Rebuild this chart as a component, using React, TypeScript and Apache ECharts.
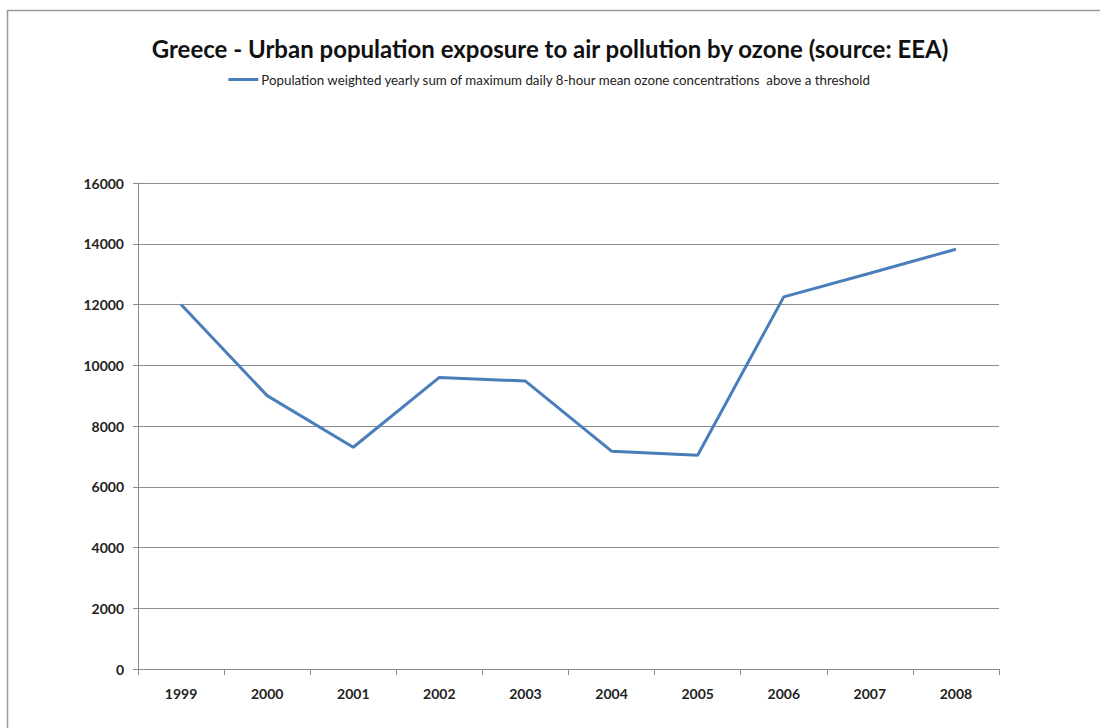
import React, { useEffect, useRef } from "react";
import * as echarts from "echarts";

const titleText = "Greece - Urban population exposure to air pollution by ozone (source: EEA)";
const seriesName = "Population weighted yearly sum of maximum daily 8-hour mean ozone concentrations  above a threshold";
const years = ["1999", "2000", "2001", "2002", "2003", "2004", "2005", "2006", "2007", "2008"];
const ozoneValues = [12000, 9000, 7300, 9600, 9480, 7170, 7040, 12250, 13030, 13820];
const yMin = 0;
const yMax = 16000;
const yStep = 2000;

export default function App() {
  const ref = useRef<HTMLDivElement>(null);
  useEffect(() => {
    if (!ref.current) return;
    const chart = echarts.init(ref.current, null, { renderer: "svg" });
    const font = "Lato, 'Open Sans', sans-serif";
    chart.setOption({
      animation: false,
      backgroundColor: "#ffffff",
      title: {
        text: titleText,
        left: "center",
        top: 31,
        textStyle: { fontFamily: font, fontSize: 24, fontWeight: "bold", color: "#111" },
      },
      legend: {
        data: [seriesName],
        top: 68,
        left: "center",
        icon: "rect",
        itemWidth: 30,
        itemHeight: 3,
        itemGap: 4,
        textStyle: { fontFamily: font, fontSize: 13.3, color: "#222", padding: [0, 0, 0, -2] },
      },
      graphic: [
        { type: "line", shape: { x1: 7, y1: 10.5, x2: 1100, y2: 10.5 }, style: { stroke: "#9a9a9a", lineWidth: 1.5 } },
        { type: "line", shape: { x1: 7.5, y1: 10, x2: 7.5, y2: 728 }, style: { stroke: "#9a9a9a", lineWidth: 1.5 } },
      ],
      grid: { left: 138, right: 101, top: 183, bottom: 59 },
      xAxis: {
        type: "category",
        data: years,
        boundaryGap: true,
        axisLine: { lineStyle: { color: "#8c8c8c", width: 1 } },
        axisTick: { show: true, length: 6, lineStyle: { color: "#8c8c8c" } },
        axisLabel: { fontFamily: font, fontSize: 14, fontWeight: "bold", color: "#222", margin: 17 },
      },
      yAxis: {
        type: "value",
        min: yMin,
        max: yMax,
        interval: yStep,
        axisLine: { show: true, lineStyle: { color: "#8c8c8c", width: 1 } },
        axisTick: { show: true, length: 5, lineStyle: { color: "#8c8c8c" } },
        axisLabel: {
          fontFamily: font,
          fontSize: 14,
          fontWeight: "bold",
          color: "#222",
          margin: 14,
          formatter: (v: number) => String(v),
        },
        splitLine: { show: true, lineStyle: { color: "#8c8c8c", width: 1 } },
      },
      series: [
        {
          name: seriesName,
          type: "line",
          data: ozoneValues,
          symbol: "none",
          lineStyle: { color: "#4a7ebb", width: 3 },
          itemStyle: { color: "#4a7ebb" },
        },
      ],
    });
    return () => chart.dispose();
  }, []);
  return (
    <div
      ref={ref}
      style={{ position: "fixed", left: 0, top: 0, width: 1100, height: 728 }}
    />
  );
}
